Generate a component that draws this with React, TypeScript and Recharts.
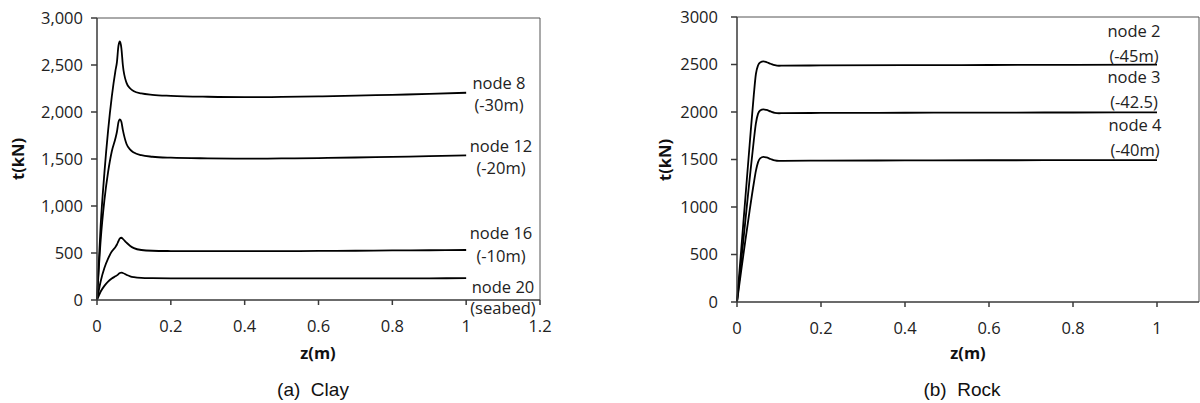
import React from 'react';
import { LineChart, Line, XAxis, YAxis, ReferenceLine } from 'recharts';

// (a) Clay: shared z grid and t values per node
const clayZ = [0, 0.01, 0.02, 0.03, 0.04, 0.05, 0.054, 0.058, 0.062, 0.066, 0.07, 0.08, 0.09, 0.1, 0.12, 0.15, 0.2, 0.3, 0.4, 0.5, 0.6, 0.7, 0.8, 0.9, 1.0];
const clayNode8 = [0, 800, 1350, 1800, 2160, 2440, 2530, 2700, 2750, 2680, 2500, 2310, 2250, 2220, 2198, 2183, 2172, 2162, 2158, 2160, 2166, 2174, 2183, 2192, 2205];
const clayNode12 = [0, 640, 1060, 1360, 1580, 1720, 1790, 1890, 1922, 1895, 1810, 1660, 1600, 1568, 1540, 1524, 1514, 1507, 1504, 1506, 1510, 1516, 1523, 1530, 1538];
const clayNode16 = [0, 200, 340, 440, 515, 565, 590, 625, 655, 662, 650, 610, 575, 552, 532, 524, 521, 519, 519, 520, 522, 524, 527, 529, 532];
const clayNode20 = [0, 90, 150, 195, 228, 252, 262, 275, 288, 292, 287, 268, 252, 243, 235, 232, 230, 229, 229, 229, 230, 230, 231, 231, 232];

// (b) Rock
const rockZ = [0, 0.01, 0.02, 0.03, 0.04, 0.045, 0.05, 0.055, 0.063, 0.07, 0.08, 0.09, 0.1, 0.11, 0.2, 0.4, 0.6, 0.8, 1.0];
const rockNode2 = [0, 550, 1100, 1650, 2180, 2400, 2490, 2522, 2532, 2525, 2508, 2493, 2487, 2488, 2490, 2493, 2495, 2497, 2498];
const rockNode3 = [0, 430, 860, 1290, 1700, 1880, 1980, 2015, 2028, 2022, 2006, 1992, 1987, 1988, 1990, 1992, 1994, 1995, 1996];
const rockNode4 = [0, 330, 650, 960, 1250, 1380, 1470, 1512, 1528, 1522, 1505, 1490, 1485, 1486, 1488, 1490, 1492, 1493, 1494];

const clayXTicks = [0, 0.2, 0.4, 0.6, 0.8, 1, 1.2];
const rockXTicks = [0, 0.2, 0.4, 0.6, 0.8, 1];
const yTicks = [0, 500, 1000, 1500, 2000, 2500, 3000];

const clayLabels = [
  ['node 8', '(-30m)'],
  ['node 12', '(-20m)'],
  ['node 16', '(-10m)'],
  ['node 20', '(seabed)'],
];
const rockLabels = [
  ['node 2', '(-45m)'],
  ['node 3', '(-42.5)'],
  ['node 4', '(-40m)'],
];

const clayData = clayZ.map((z, i) => ({ z, n8: clayNode8[i], n12: clayNode12[i], n16: clayNode16[i], n20: clayNode20[i] }));
const rockData = rockZ.map((z, i) => ({ z, n2: rockNode2[i], n3: rockNode3[i], n4: rockNode4[i] }));

const FONT = '"Open Sans", sans-serif';
const tickStyle = { fontSize: 16.5, fill: '#222', fontFamily: FONT };
const axisStroke = '#3a3a3a';

const lineProps = {
  type: 'monotone' as const,
  stroke: '#000',
  strokeWidth: 1.8,
  dot: false,
  isAnimationActive: false,
};

// label anchor positions (layout only)
const clayLabelPos = [
  { x: 499, y: 83, gap: 22 },
  { x: 501, y: 146, gap: 22 },
  { x: 501, y: 233, gap: 23 },
  { x: 503, y: 287, gap: 21 },
];
const rockLabelPos = [
  { x: 1134, y: 31, gap: 25 },
  { x: 1134, y: 77, gap: 25 },
  { x: 1135, y: 125, gap: 25 },
];

const NodeLabel: React.FC<{ lines: string[]; x: number; y: number; gap: number }> = ({ lines, x, y, gap }) => (
  <>
    {lines.map((t, i) => (
      <div
        key={i}
        style={{
          position: 'absolute',
          left: x - 50,
          width: 100,
          top: y + i * gap - 9,
          height: 18,
          lineHeight: '18px',
          textAlign: 'center',
          fontFamily: FONT,
          fontSize: 16.5,
          color: '#222',
          whiteSpace: 'nowrap',
        }}
      >
        {t}
      </div>
    ))}
  </>
);

const Title: React.FC<{ text: string; x: number; y: number; size: number; bold?: boolean; rotate?: boolean; font?: string }> = ({ text, x, y, size, bold, rotate, font }) => (
  <div
    style={{
      position: 'absolute',
      left: x - 100,
      top: y - 15,
      width: 200,
      height: 30,
      lineHeight: '30px',
      textAlign: 'center',
      fontFamily: font || FONT,
      fontSize: size,
      fontWeight: bold ? 700 : 400,
      color: '#111',
      whiteSpace: 'pre',
      transform: rotate ? 'rotate(-90deg)' : undefined,
    }}
  >
    {text}
  </div>
);

export default function App() {
  return (
    <div style={{ position: 'fixed', left: 0, top: 0, width: 1200, height: 403, background: '#fff', overflow: 'hidden' }}>
      <div style={{ position: 'absolute', left: 0, top: 0 }}>
        <LineChart width={560} height={340} data={clayData} margin={{ top: 18, right: 20, left: 0, bottom: 10 }}>
          <XAxis
            dataKey="z"
            type="number"
            domain={[0, 1.2]}
            ticks={clayXTicks}
            tick={tickStyle}
            tickSize={5}
            tickMargin={15}
            height={30}
            stroke={axisStroke}
            strokeWidth={1.5}
          />
          <YAxis
            type="number"
            domain={[0, 3000]}
            ticks={yTicks}
            tick={tickStyle}
            tickSize={6}
            tickMargin={8}
            width={97}
            stroke={axisStroke}
            strokeWidth={1.5}
            tickFormatter={(v: number) => v.toLocaleString('en-US')}
          />
          <ReferenceLine y={3000} stroke="#555" strokeWidth={1} />
          <ReferenceLine x={1.2} stroke="#555" strokeWidth={1} />
          <Line dataKey="n8" {...lineProps} />
          <Line dataKey="n12" {...lineProps} />
          <Line dataKey="n16" {...lineProps} />
          <Line dataKey="n20" {...lineProps} />
        </LineChart>
      </div>
      <div style={{ position: 'absolute', left: 640, top: 0 }}>
        <LineChart width={560} height={340} data={rockData} margin={{ top: 17, right: 1, left: 0, bottom: 8 }}>
          <XAxis
            dataKey="z"
            type="number"
            domain={[0, 1.1]}
            ticks={rockXTicks}
            tick={tickStyle}
            tickSize={5}
            tickMargin={15}
            height={30}
            stroke={axisStroke}
            strokeWidth={1.5}
          />
          <YAxis
            type="number"
            domain={[0, 3000]}
            ticks={yTicks}
            tick={tickStyle}
            tickSize={6}
            tickMargin={13}
            width={97}
            stroke={axisStroke}
            strokeWidth={1.5}
          />
          <ReferenceLine y={3000} stroke="#555" strokeWidth={1} />
          <ReferenceLine x={1.1} stroke="#555" strokeWidth={1} />
          <Line dataKey="n2" {...lineProps} />
          <Line dataKey="n3" {...lineProps} />
          <Line dataKey="n4" {...lineProps} />
        </LineChart>
      </div>

      {clayLabels.map((l, i) => (
        <NodeLabel key={'c' + i} lines={l} {...clayLabelPos[i]} />
      ))}
      {rockLabels.map((l, i) => (
        <NodeLabel key={'r' + i} lines={l} {...rockLabelPos[i]} />
      ))}

      <Title text="t(kN)" x={18} y={159} size={16.5} bold rotate />
      <Title text="t(kN)" x={665} y={160} size={16.5} bold rotate />
      <Title text="z(m)" x={318} y={353} size={16.5} bold />
      <Title text="z(m)" x={968} y={353} size={16.5} bold />
      <Title text={'(a)  Clay'} x={313} y={390} size={19} font='"Liberation Sans", Arial, sans-serif' />
      <Title text={'(b)  Rock'} x={962} y={390} size={19} font='"Liberation Sans", Arial, sans-serif' />
    </div>
  );
}
